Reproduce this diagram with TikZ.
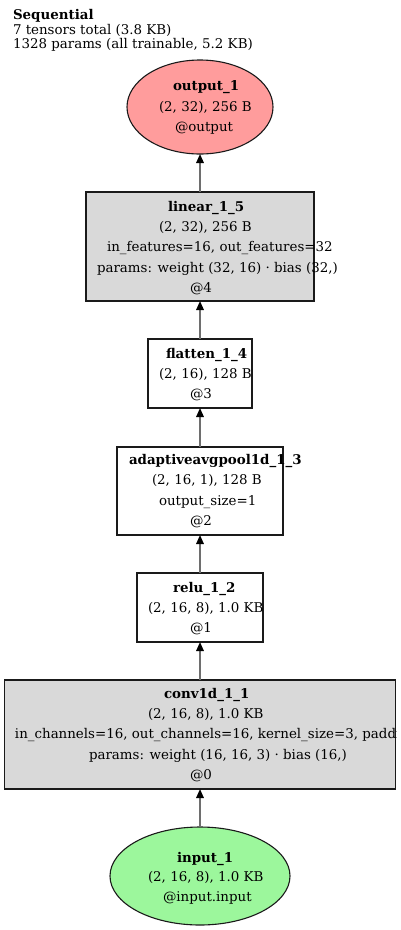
\documentclass[tikz,border=0pt]{standalone}
\usepackage{fontspec}
\setmainfont{DejaVu Serif}
\usetikzlibrary{arrows.meta,shapes.geometric}
\definecolor{outfill}{HTML}{FF9C9C}
\definecolor{infill}{HTML}{9CF79C}
\definecolor{boxgray}{HTML}{D9D9D9}
\definecolor{edgegray}{HTML}{6E6E6E}
\definecolor{bordercol}{HTML}{1A1A1A}
\begin{document}
\begin{tikzpicture}[x=1pt,y=-1pt,
  every node/.style={inner sep=0pt,outer sep=0pt},
  txt/.style={anchor=base west,font=\fontsize{13.4pt}{15pt}\selectfont},
  ttl/.style={anchor=base west,font=\fontsize{13.4pt}{15pt}\selectfont\bfseries},
  layerbox/.style={draw=bordercol,line width=1.1pt,rectangle},
  grayfill/.style={fill=boxgray},
  ioell/.style={draw=bordercol,line width=1.1pt,ellipse},
  flow/.style={draw=edgegray,line width=1.6pt,-{Triangle[length=9pt,width=7.5pt,color=black]}}
]
\path[use as bounding box] (0,0) rectangle (400,930);
\begin{scope}
\clip (0,0) rectangle (396.5,930);
% header
\node[ttl] (hdr1) at (13,19) {Sequential};
\node[txt] (hdr2) at (13,34) {7 tensors total (3.8 KB)};
\node[txt] (hdr3) at (13,48.5) {1328 params (all trainable, 5.2 KB)};

% shapes
\node[ioell,fill=outfill,minimum width=146pt,minimum height=94pt] (out) at (200,107) {};
\node[layerbox,grayfill,minimum width=228pt,minimum height=109pt] (lin) at (200,246.5) {};
\node[layerbox,fill=white,minimum width=104pt,minimum height=69pt] (flat) at (200,373.5) {};
\node[layerbox,fill=white,minimum width=166pt,minimum height=88pt] (pool) at (200,491) {};
\node[layerbox,fill=white,minimum width=126pt,minimum height=69pt] (relu) at (200,607.5) {};
\node[layerbox,grayfill,minimum width=391pt,minimum height=109pt] (conv) at (200,734.5) {};
\node[ioell,fill=infill,minimum width=180pt,minimum height=98pt] (inp) at (200,876) {};

% connectors
\draw[flow] (inp.north) -- (conv.south);
\draw[flow] (conv.north) -- (relu.south);
\draw[flow] (relu.north) -- (pool.south);
\draw[flow] (pool.north) -- (flat.south);
\draw[flow] (flat.north) -- (lin.south);
\draw[flow] (lin.north) -- (out.south);

% output_1
\node[ttl] (out1) at (173,90) {output\_1};
\node[txt] (out2) at (159,111) {(2, 32), 256 B};
\node[txt] (out3) at (175,131) {@output};

% linear_1_5
\node[ttl] (lin1) at (168,211) {linear\_1\_5};
\node[txt] (lin2) at (159,231.4) {(2, 32), 256 B};
\node[txt] (lin3) at (107,251.8) {in\_features=16, out\_features=32};
\node[txt] (lin4) at (97,272.2) {params: weight (32, 16) · bias (32,)};
\node[txt] (lin5) at (190,292.6) {@4};

% flatten_1_4
\node[ttl] (flat1) at (166,358) {flatten\_1\_4};
\node[txt] (flat2) at (159,378.4) {(2, 16), 128 B};
\node[txt] (flat3) at (190,398.8) {@3};

% adaptiveavgpool1d_1_3
\node[ttl] (pool1) at (129,464) {adaptiveavgpool1d\_1\_3};
\node[txt] (pool2) at (152,484.6) {(2, 16, 1), 128 B};
\node[txt] (pool3) at (159,505.2) {output\_size=1};
\node[txt] (pool4) at (190,525.8) {@2};

% relu_1_2
\node[ttl] (relu1) at (173,592) {relu\_1\_2};
\node[txt] (relu2) at (148,612.4) {(2, 16, 8), 1.0 KB};
\node[txt] (relu3) at (190,632.8) {@1};

% conv1d_1_1
\node[ttl] (conv1) at (164,698) {conv1d\_1\_1};
\node[txt] (conv2) at (148,718.4) {(2, 16, 8), 1.0 KB};
\node[txt] (conv3) at (15,738.8) {in\_channels=16, out\_channels=16, kernel\_size=3, padding=1};
\node[txt] (conv4) at (89,759.2) {params: weight (16, 16, 3) · bias (16,)};
\node[txt] (conv5) at (190,779.6) {@0};

% input_1
\node[ttl] (inp1) at (177,862) {input\_1};
\node[txt] (inp2) at (148,881.5) {(2, 16, 8), 1.0 KB};
\node[txt] (inp3) at (163,901) {@input.input};
\end{scope}
\end{tikzpicture}
\end{document}
